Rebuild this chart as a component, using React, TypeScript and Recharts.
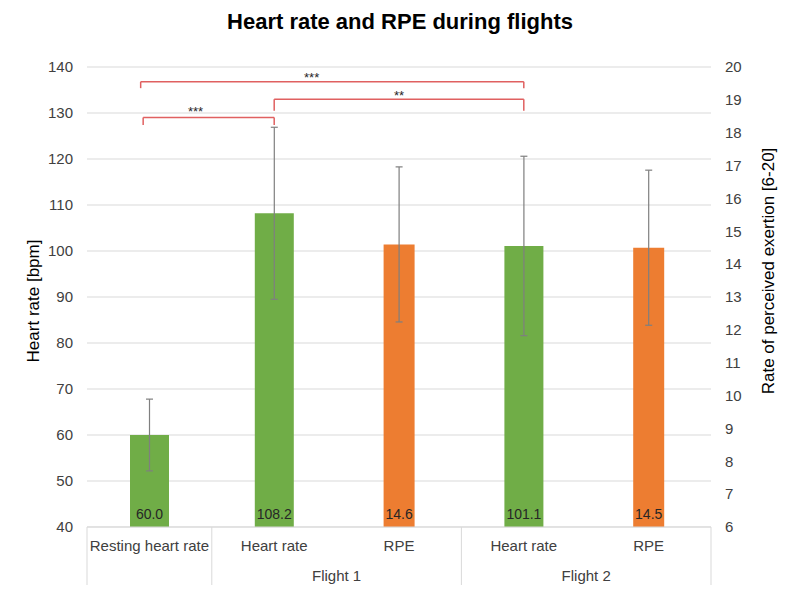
import {
  ComposedChart,
  Bar,
  XAxis,
  YAxis,
  CartesianGrid,
  ErrorBar,
  LabelList,
  ReferenceLine,
  ReferenceDot,
} from "recharts";

const categories = ["Resting heart rate", "Heart rate", "RPE", "Heart rate", "RPE"];
const heartRate = [60.0, 108.2, null, 101.1, null];
const heartRateSd = [7.8, 18.7, null, 19.5, null];
const rpe = [null, null, 14.6, null, 14.5];
const rpeSd = [null, null, 2.36, null, 2.36];

const hrTicks = [40, 50, 60, 70, 80, 90, 100, 110, 120, 130, 140];
const rpeTicks = [6, 7, 8, 9, 10, 11, 12, 13, 14, 15, 16, 17, 18, 19, 20];

// category groups for the second row of the x axis
const groups = [
  { label: "", start: 0, end: 0 },
  { label: "Flight 1", start: 1, end: 2 },
  { label: "Flight 2", start: 3, end: 4 },
];

// significance brackets, x in category units (0..5), y in bpm
const brackets = [
  { from: 0.45, to: 1.5, y: 129.0, drop: 127.4, label: "***", labelX: 0.87, labelY: 130.4 },
  { from: 1.5, to: 3.5, y: 133.0, drop: 130.5, label: "**", labelX: 2.5, labelY: 133.9 },
  { from: 0.43, to: 3.5, y: 136.8, drop: 135.4, label: "***", labelX: 1.8, labelY: 137.8 },
];

const W = 800;
const H = 600;
const LEFT_W = 87;
const RIGHT_W = 89;
const TOP = 67;
const XAXIS_H = 73;
const BAND = (W - LEFT_W - RIGHT_W) / categories.length;

const GREEN = "#70ad47";
const ORANGE = "#ed7d31";
const GRID = "#d9d9d9";
const TEXT = "#404040";

const data = categories.map((c, i) => ({
  key: `c${i}`,
  pos: i + 0.5,
  name: c,
  hr: heartRate[i],
  hrSd: heartRateSd[i],
  rpe: rpe[i],
  rpeSd: rpeSd[i],
}));

const CategoryTick = (props: any) => {
  const { x, y, payload } = props;
  const i = payload.index ?? props.index;
  const half = BAND / 2;
  const lines: number[] = [];
  if (groups.some((g) => g.start === i)) lines.push(x - half);
  if (i === categories.length - 1) lines.push(x + half);
  const g = groups.find((gr) => gr.end === i && gr.label);
  return (
    <g>
      <text x={x} y={y + 18} textAnchor="middle" dominantBaseline="central" fontSize={15} fill={TEXT}>
        {categories[i]}
      </text>
      {lines.map((lx) => (
        <line key={lx} x1={lx} x2={lx} y1={y} y2={y + 58} stroke={GRID} strokeWidth={1} />
      ))}
      {g && (
        <text
          x={x - ((g.end - g.start) * BAND) / 2}
          y={y + 48}
          textAnchor="middle"
          dominantBaseline="central"
          fontSize={15}
          fill={TEXT}
        >
          {g.label}
        </text>
      )}
    </g>
  );
};

const BarValue = (props: any) => {
  const { x, y, width, height, value } = props;
  if (value == null) return null;
  return (
    <text x={x + width / 2} y={y + height - 8} textAnchor="middle" fontSize={14} fill="#262626">
      {Number(value).toFixed(1)}
    </text>
  );
};

export default function App() {
  return (
    <div
      style={{
        position: "absolute",
        left: 0,
        top: 0,
        width: W,
        height: H,
        background: "#fff",
        fontFamily: "'Liberation Sans', Arial, sans-serif",
      }}
    >
      <div
        style={{
          position: "absolute",
          top: 9,
          width: W,
          textAlign: "center",
          fontSize: 22,
          fontWeight: "bold",
          lineHeight: "26px",
          color: "#000",
        }}
      >
        Heart rate and RPE during flights
      </div>
      <ComposedChart width={W} height={H} data={data} margin={{ top: TOP, right: 0, bottom: 0, left: 0 }}>
        <CartesianGrid yAxisId="left" xAxisId="cat" vertical={false} stroke={GRID} />
        <XAxis
          xAxisId="cat"
          dataKey="key"
          height={XAXIS_H}
          interval={0}
          tickLine={false}
          tickSize={0}
          tickMargin={0}
          axisLine={{ stroke: GRID }}
          tick={<CategoryTick />}
        />
        <XAxis xAxisId="rpe" dataKey="key" hide />
        <XAxis xAxisId="pos" dataKey="pos" type="number" domain={[0, 5]} allowDataOverflow hide />
        <YAxis
          yAxisId="left"
          width={LEFT_W}
          domain={[40, 140]}
          ticks={hrTicks}
          interval={0}
          axisLine={false}
          tickLine={false}
          tickMargin={8}
          tick={{ fontSize: 15, fill: TEXT }}
          label={{
            content: () => (
              <text
                x={33}
                y={301}
                transform="rotate(-90 33 301)"
                textAnchor="middle"
                dominantBaseline="central"
                fontSize={17}
                fill="#000"
              >
                Heart rate [bpm]
              </text>
            ),
          }}
        />
        <YAxis
          yAxisId="right"
          orientation="right"
          width={RIGHT_W}
          domain={[6, 20]}
          ticks={rpeTicks}
          interval={0}
          axisLine={false}
          tickLine={false}
          tickMargin={8}
          tick={{ fontSize: 15, fill: TEXT }}
          label={{
            content: () => (
              <text
                x={768}
                y={271}
                transform="rotate(-90 768 271)"
                textAnchor="middle"
                dominantBaseline="central"
                fontSize={17}
                fill="#000"
              >
                Rate of perceived exertion [6-20]
              </text>
            ),
          }}
        />
        <Bar xAxisId="cat" yAxisId="left" dataKey="hr" fill={GREEN} barSize={39} isAnimationActive={false}>
          <ErrorBar dataKey="hrSd" direction="y" width={3.5} stroke="#7f7f7f" strokeWidth={1.2} />
          <LabelList dataKey="hr" content={<BarValue />} />
        </Bar>
        <Bar xAxisId="rpe" yAxisId="right" dataKey="rpe" fill={ORANGE} barSize={31} isAnimationActive={false}>
          <ErrorBar dataKey="rpeSd" direction="y" width={3.5} stroke="#7f7f7f" strokeWidth={1.2} />
          <LabelList dataKey="rpe" content={<BarValue />} />
        </Bar>
        {brackets.map((b, i) => [
          <ReferenceLine
            key={`h${i}`}
            xAxisId="pos"
            yAxisId="left"
            segment={[{ x: b.from, y: b.y }, { x: b.to, y: b.y }]}
            stroke="#e06060"
            strokeWidth={1.5}
            ifOverflow="visible"
          />,
          <ReferenceLine
            key={`l${i}`}
            xAxisId="pos"
            yAxisId="left"
            segment={[{ x: b.from, y: b.y }, { x: b.from, y: b.drop }]}
            stroke="#e06060"
            strokeWidth={1.5}
            ifOverflow="visible"
          />,
          <ReferenceLine
            key={`r${i}`}
            xAxisId="pos"
            yAxisId="left"
            segment={[{ x: b.to, y: b.y }, { x: b.to, y: b.drop }]}
            stroke="#e06060"
            strokeWidth={1.5}
            ifOverflow="visible"
          />,
          <ReferenceDot
            key={`t${i}`}
            xAxisId="pos"
            yAxisId="left"
            x={b.labelX}
            y={b.labelY}
            r={0}
            fill="none"
            stroke="none"
            ifOverflow="visible"
            label={{ value: b.label, position: "center", fontSize: 13, fill: "#262626" }}
          />,
        ])}
      </ComposedChart>
    </div>
  );
}
